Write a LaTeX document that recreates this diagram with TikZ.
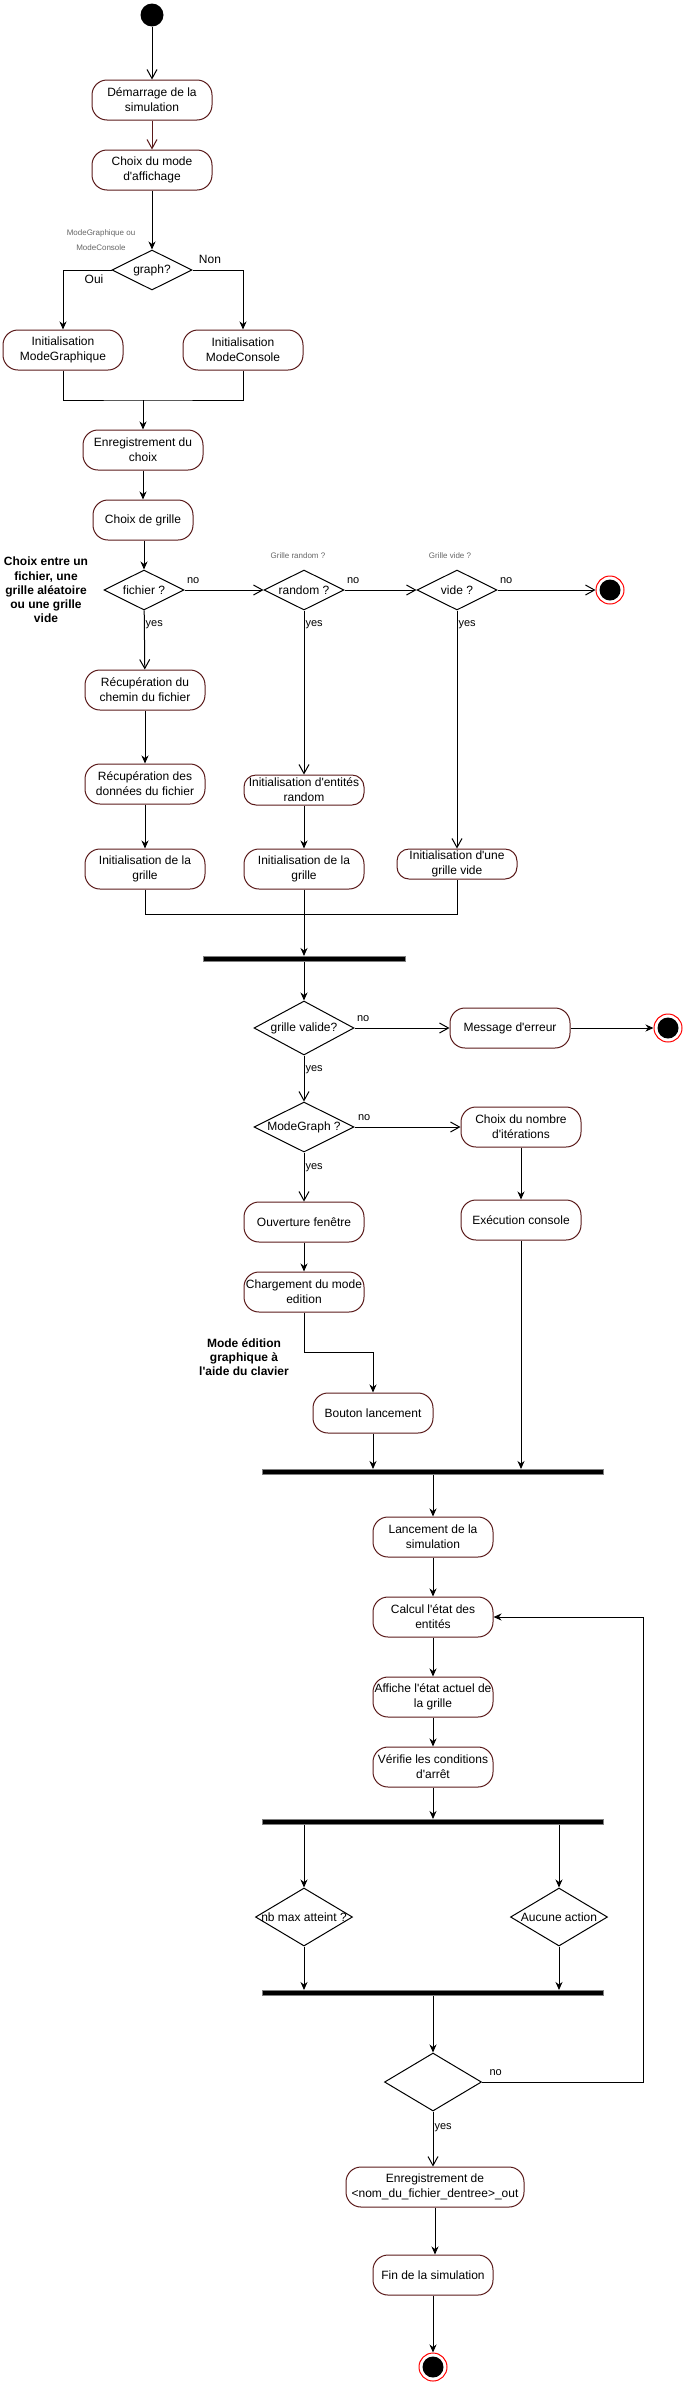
\documentclass[tikz,border=0pt]{standalone}
\usepackage{fontspec}
\setmainfont{Liberation Sans}[Ligatures=TeXOff]
\usetikzlibrary{arrows.meta}
\usetikzlibrary{positioning,shapes.geometric}
\definecolor{actred}{HTML}{5A1A1A}
\definecolor{notegray}{HTML}{666666}

\begin{document}
\begin{tikzpicture}[%
        x=1pt, y=-1pt, line width=1pt,
        every node/.style={align=center, inner sep=1pt, font=\fontsize{12}{15}\selectfont},
        act/.style={draw=actred, line width=1pt, rounded corners=15pt, minimum width=120pt, minimum height=40pt},
        dec/.style={draw, diamond, line width=1pt, inner sep=0pt, minimum width=80pt, minimum height=40pt},
        barst/.style={rectangle, fill=black, draw=gray, line width=1pt, minimum width=341pt, minimum height=5pt, inner sep=0pt},
        startst/.style={circle, fill=black, minimum size=23pt, inner sep=0pt},
        endst/.style={circle, draw=red, line width=1pt, minimum size=28pt, inner sep=0pt,
          path picture={\fill[black] (path picture bounding box.center) circle (10.5pt);}},
        lbl/.style={font=\fontsize{11}{13}\selectfont, text height=8pt, text depth=2pt},
        hint/.style={font=\fontsize{8}{15}\selectfont, text=notegray},
        remark/.style={font=\bfseries\fontsize{12}{14.2}\selectfont},
        openarr/.style={-{Straight Barb[length=9pt,width=10pt]}},
        fillarr/.style={-{Stealth[length=8pt,width=7pt,inset=2.5pt]}}
      ]
      \useasboundingbox (0,0) rectangle (684,2385);
      % mode d'affichage
      \node [startst] (start) at (152,15) {};
      \node [act] (dem) at (152,100) {Démarrage de la\\simulation};
      \node [act] (mode) at (152,170) {Choix du mode\\d'affichage};
      \node [dec] (graph) at (152,270) {\makebox[0pt]{graph?}};
      \node [hint] (hmode) at (101,240) {ModeGraphique ou\\ModeConsole};
      \node [act] (initG) at (63,350) {Initialisation\\ModeGraphique};
      \node [act] (initC) at (243,350) {Initialisation\\ModeConsole};
      \node (oui) at (94,279) {Oui};
      \node (non) at (210,259) {Non};
      \coordinate (m1) at (143,400);
      \node [act] (enreg) at (143,450) {Enregistrement du\\choix};
      % choix de grille
      \node [act, minimum width=100pt] (grille) at (143,520) {Choix de grille};
      \node [remark] (hgrille) at (46,590) {Choix entre un\\fichier, une\\grille aléatoire\\ou une grille\\vide};
      \node [dec] (fichier) at (144,590) {\makebox[0pt]{fichier ?}};
      \node [dec] (random) at (304,590) {\makebox[0pt]{random ?}};
      \node [dec] (vide) at (457,590) {\makebox[0pt]{vide ?}};
      \node [hint] (hrandom) at (298,556) {Grille random ?};
      \node [hint] (hvide) at (450,556) {Grille vide ?};
      \node [endst] (end1) at (610,590) {};
      \node [act] (chemin) at (145,690) {Récupération du\\chemin du fichier};
      \node [act] (donnees) at (145,784) {Récupération des\\données du fichier};
      \node [act] (initg1) at (145,869) {Initialisation de la\\grille};
      \node [act, minimum height=30pt, rounded corners=12pt] (entites) at (304,790) {Initialisation d'entités\\random};
      \node [act] (initg2) at (304,869) {Initialisation de la\\grille};
      \node [act, minimum height=30pt, rounded corners=12pt] (vidbox) at (457,864) {Initialisation d'une\\grille vide};
      \coordinate (m2) at (304,914);
      \node [barst, minimum width=202pt] (bar1) at (304,959) {};
      % validation et mode
      \node [dec, minimum width=100pt, minimum height=54pt] (valide) at (304,1028) {\makebox[0pt]{grille valide?}};
      \node [act] (msg) at (510,1028) {Message d'erreur};
      \node [endst] (end2) at (668,1028) {};
      \node [dec, minimum width=100pt, minimum height=50pt] (modeg) at (304,1127) {\makebox[0pt]{ModeGraph ?}};
      \node [act] (nbiter) at (521,1127) {Choix du nombre\\d'itérations};
      \node [act] (ouvert) at (304,1222) {Ouverture fenêtre};
      \node [act] (exec) at (521,1220) {Exécution console};
      \node [act] (charg) at (304,1292) {Chargement du mode\\edition};
      \node [remark] (hedit) at (244,1357) {Mode édition\\graphique à\\l'aide du clavier};
      \node [act] (bouton) at (373,1413) {Bouton lancement};
      \node [barst] (bar2) at (433,1472) {};
      % simulation
      \node [act] (lanc) at (433,1537) {Lancement de la\\simulation};
      \node [act] (calcul) at (433,1617) {Calcul l'état des\\entités};
      \node [act] (affiche) at (433,1697) {Affiche l'état actuel de\\la grille};
      \node [act] (verif) at (433,1767) {Vérifie les conditions\\d'arrêt};
      \node [barst] (bar3) at (433,1822) {};
      \node [dec, minimum width=97pt, minimum height=58pt] (nbmax) at (304,1917) {\makebox[0pt]{nb max atteint ?}};
      \node [dec, minimum width=97pt, minimum height=58pt] (aucune) at (559,1917) {\makebox[0pt]{Aucune action}};
      \node [barst] (bar4) at (433,1993) {};
      \node [dec, minimum width=97pt, minimum height=58pt] (findec) at (433,2082) {};
      \coordinate (back) at (643,2082);
      \node [act, minimum width=178pt] (enregout) at (435,2187) {Enregistrement de\\<nom\_du\_fichier\_dentree>\_out};
      \node [act] (finsim) at (433,2275) {Fin de la simulation};
      \node [endst] (end3) at (433,2367) {};

      \path [draw]
        (start) edge[openarr] (dem)
        (dem) edge[openarr, draw=actred] (mode)
        (mode) edge[fillarr] (graph)
        (enreg) edge[fillarr] (grille);
      \draw [fillarr] (graph.west) -| (initG);
      \draw [fillarr] (graph.east) -| (initC);
      \draw (initG) |- (m1) -| (initC);
      \draw [fillarr] (m1) -- (enreg);
      \draw [fillarr] (grille.south -| fichier) -- (fichier);

      \path [draw]
        (fichier) edge[openarr] node[lbl, pos=0, anchor=south west, xshift=1pt, yshift=3pt] {no} (random)
        (random) edge[openarr] node[lbl, pos=0, anchor=south west, xshift=1pt, yshift=3pt] {no} (vide)
        (vide) edge[openarr] node[lbl, pos=0, anchor=south west, xshift=1pt, yshift=3pt] {no} (end1)
        (fichier) edge[openarr] node[lbl, pos=0, anchor=north west, yshift=-6.5pt] {yes} (chemin)
        (random) edge[openarr] node[lbl, pos=0, anchor=north west, yshift=-6.5pt] {yes} (entites)
        (vide) edge[openarr] node[lbl, pos=0, anchor=north west, yshift=-6.5pt] {yes} (vidbox)
        (chemin) edge[fillarr] (donnees)
        (donnees) edge[fillarr] (initg1)
        (entites) edge[fillarr] (initg2);
      \draw (initg1) |- (m2) -| (vidbox);
      \draw [fillarr] (initg2) -- (bar1);

      \path [draw]
        (bar1) edge[fillarr] (valide)
        (valide) edge[openarr] node[lbl, pos=0, anchor=south west, xshift=1pt, yshift=3pt] {no} (msg)
        (msg) edge[fillarr] (end2)
        (valide) edge[openarr] node[lbl, pos=0, anchor=north west, yshift=-6.5pt] {yes} (modeg)
        (modeg) edge[openarr] node[lbl, pos=0, anchor=south west, xshift=2pt, yshift=3pt] {no} (nbiter)
        (modeg) edge[openarr] node[lbl, pos=0, anchor=north west, yshift=-7pt] {yes} (ouvert)
        (nbiter) edge[fillarr] (exec)
        (ouvert) edge[fillarr] (charg);
      \draw [fillarr] (charg.south) -- ++(0,40) -| (bouton);
      \draw [fillarr] (bouton) -- (bouton |- bar2.north);
      \draw [fillarr] (exec) -- (exec |- bar2.north);

      \path [draw]
        (bar2) edge[fillarr] (lanc)
        (lanc) edge[fillarr] (calcul)
        (calcul) edge[fillarr] (affiche)
        (affiche) edge[fillarr] (verif)
        (verif) edge[fillarr] (verif |- bar3.north)
        (nbmax |- bar3.south) edge[fillarr] (nbmax)
        (aucune |- bar3.south) edge[fillarr] (aucune)
        (nbmax) edge[fillarr] (nbmax |- bar4.north)
        (aucune) edge[fillarr] (aucune |- bar4.north)
        (bar4) edge[fillarr] (findec)
        (findec) edge[openarr] node[lbl, pos=0, anchor=north west, yshift=-8pt] {yes} (findec |- enregout.north)
        (enregout) edge[fillarr] (enregout |- finsim.north)
        (finsim) edge[fillarr] (end3);
      \draw [fillarr] (findec) -- node[lbl, pos=0, anchor=south west, xshift=6pt, yshift=3pt] {no} (back) |- (calcul);
    \end{tikzpicture}
\end{document}
